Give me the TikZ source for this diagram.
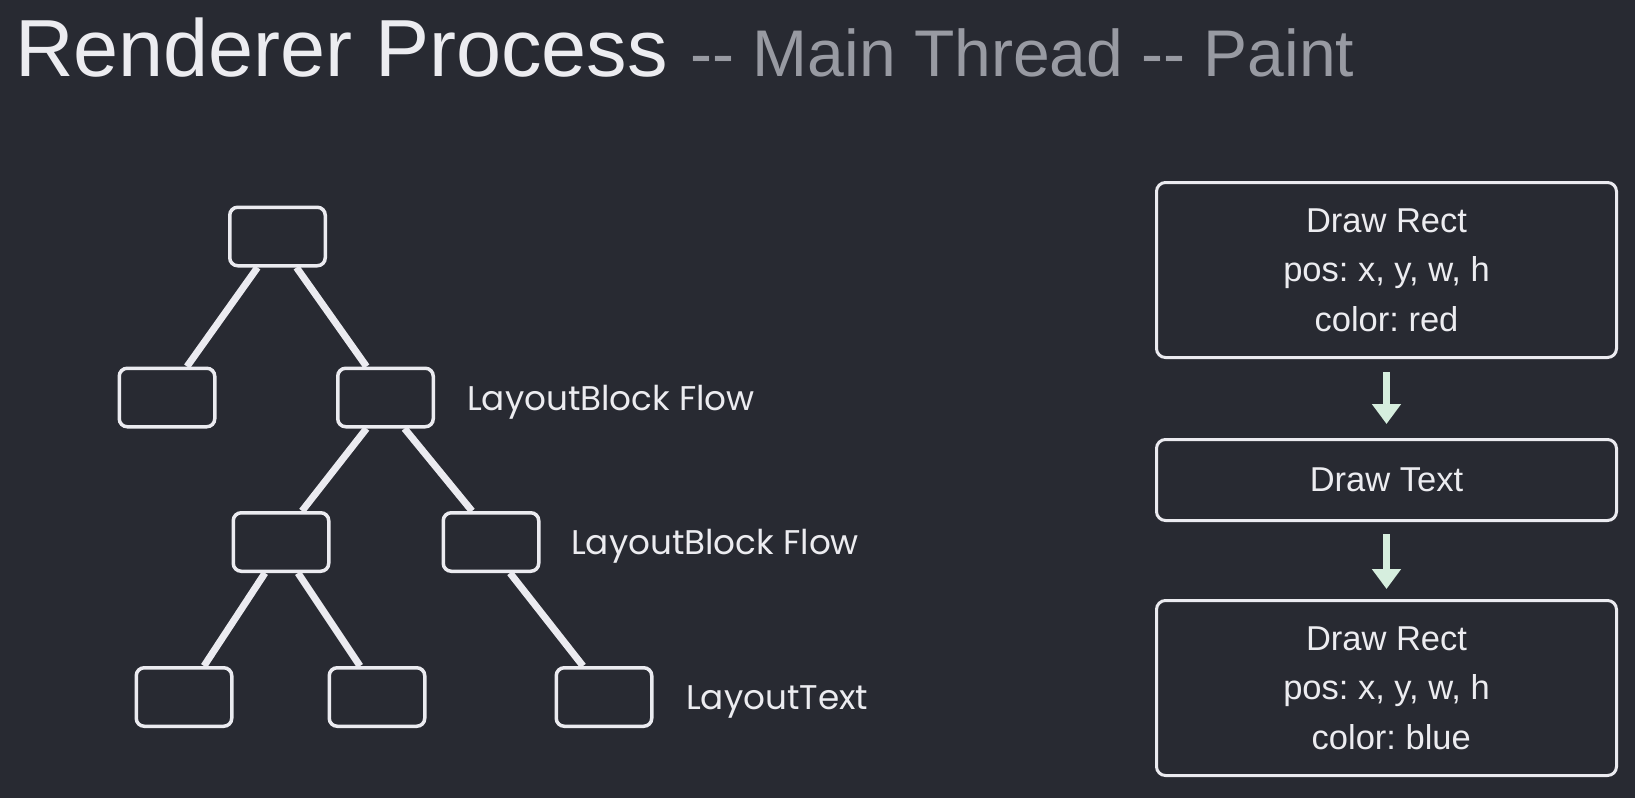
\documentclass[tikz,border=0pt]{standalone}
\usepackage{fontspec}
\setmainfont{Liberation Sans}
\newfontfamily\geofont{Poppins}
\usetikzlibrary{arrows.meta,calc}
\definecolor{bg}{RGB}{40,42,50}
\definecolor{titlec}{RGB}{236,236,240}
\definecolor{subc}{RGB}{152,154,162}
\definecolor{linec}{RGB}{235,235,240}
\definecolor{arrowc}{RGB}{214,238,222}
\frenchspacing
\begin{document}
\begin{tikzpicture}[x=1pt,y=-1pt,
  treebox/.style={draw=linec,line width=3.5pt,rounded corners=8pt,minimum width=95.5pt,minimum height=58.5pt,inner sep=0pt},
  edge/.style={draw=linec,line width=7pt},
  opbox/.style={draw=linec,line width=3pt,rounded corners=9pt,minimum width=460pt,inner sep=0pt,align=center,text=titlec,font=\fontsize{34.5}{49.5}\selectfont},
  lbl/.style={anchor=base west,text=titlec,font=\geofont\fontsize{34.2}{40}\selectfont,inner sep=0pt},
  flow/.style={draw=arrowc,line width=7pt,-{Triangle[width=28pt,length=20pt]}}
]
\path[fill=bg] (0,0) rectangle (1635,798);
\useasboundingbox (0,0) rectangle (1635,798);

% title
\node[anchor=base west,inner sep=0pt] (title) at (15,76)
  {\color{titlec}\fontsize{81}{84}\selectfont Renderer Process\ \color{subc}\fontsize{66}{70}\selectfont -{}- Main Thread -{}- Paint};

% tree
\node[treebox] (root) at (277.5,236.5) {};
\node[treebox] (a) at (167,397.5) {};
\node[treebox] (b) at (385.5,397.5) {};
\node[treebox] (c) at (281,542) {};
\node[treebox] (d) at (491,542) {};
\node[treebox] (e) at (184,697) {};
\node[treebox] (f) at (377,697) {};
\node[treebox] (g) at (604,697) {};

\draw[edge] ($(root.south)+(-20,0)$) -- ($(a.north)+(20,0)$);
\draw[edge] ($(root.south)+(19,0)$) -- ($(b.north)+(-19,0)$);
\draw[edge] ($(b.south)+(-19,0)$) -- ($(c.north)+(21,0)$);
\draw[edge] ($(b.south)+(19,0)$) -- ($(d.north)+(-19,0)$);
\draw[edge] ($(c.south)+(-16,0)$) -- ($(e.north)+(20,0)$);
\draw[edge] ($(c.south)+(17,0)$) -- ($(f.north)+(-17,0)$);
\draw[edge] ($(d.south)+(19,0)$) -- ($(g.north)+(-21,0)$);

\node[lbl] (la) at (467,410) {LayoutBlock Flow};
\node[lbl] (lb) at (571,554) {LayoutBlock Flow};
\node[lbl] (lc) at (686,709) {LayoutText};

% paint ops
\node[opbox,minimum height=175pt] (op1) at (1386.5,270) {Draw Rect\\pos: x, y, w, h\\color: red};
\node[opbox,minimum height=81pt] (op2) at (1386.5,480) {Draw Text};
\node[opbox,minimum height=175pt] (op3) at (1386.5,688) {Draw Rect\\pos: x, y, w, h\\\ color: blue};

\draw[flow] ($(op1.south)+(0,13)$) -- ($(op2.north)+(0,-14)$);
\draw[flow] ($(op2.south)+(0,12)$) -- ($(op3.north)+(0,-10)$);
\end{tikzpicture}
\end{document}
